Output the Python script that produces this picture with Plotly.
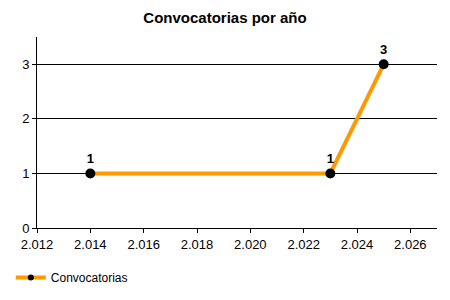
import plotly.graph_objects as go

years = [2014, 2023, 2025]
counts = [1, 1, 3]
labels = ["1", "1", "3"]
series_name = "Convocatorias"
title = "Convocatorias por año"

ORANGE = "#FF9900"

fig = go.Figure()
fig.add_trace(go.Scatter(
    x=years, y=counts, name=series_name, showlegend=False,
    mode="lines+markers+text",
    line=dict(color=ORANGE, width=4),
    marker=dict(color="black", size=10),
    text=["<b>%s</b>" % t for t in labels],
    textposition="top center",
    textfont=dict(family="Liberation Sans, Arial", size=13, color="black"),
    cliponaxis=False,
))
# legend entry with small marker
fig.add_trace(go.Scatter(
    x=[None], y=[None], name=series_name, showlegend=True,
    mode="lines+markers",
    line=dict(color=ORANGE, width=4),
    marker=dict(color="black", size=6),
))

fig.update_layout(
    width=450, height=300,
    margin=dict(l=37, r=13, t=37, b=72, autoexpand=False),
    paper_bgcolor="white", plot_bgcolor="white",
    separators=",.",
    font=dict(family="Liberation Sans, Arial", size=13, color="black"),
    title=dict(text="<b>%s</b>" % title, x=0.5, xanchor="center", y=0.94, yanchor="middle",
               font=dict(size=15, color="black")),
    showlegend=True,
    legend=dict(x=0.024, y=0.075, xref="container", yref="container",
                xanchor="left", yanchor="middle", orientation="h",
                itemwidth=30,
                font=dict(size=12), bgcolor="rgba(0,0,0,0)"),
)
fig.update_xaxes(
    range=[2012, 2027], tick0=2012, dtick=2, tickformat=",d",
    showgrid=False, showline=True, linecolor="black", linewidth=1,
    ticks="outside", ticklen=4, tickcolor="black", zeroline=False,
    automargin=False,
)
fig.update_yaxes(
    range=[0, 3.5], tick0=0, dtick=1,
    showgrid=True, gridcolor="black", gridwidth=1,
    showline=True, linecolor="black", linewidth=1,
    ticks="outside", ticklen=4, tickcolor="black", zeroline=False,
    automargin=False,
)
fig.write_html("out.html")
